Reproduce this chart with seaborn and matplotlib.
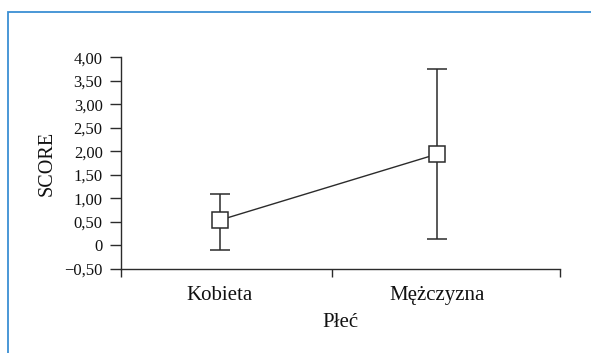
import matplotlib
matplotlib.use("Agg")
import matplotlib.pyplot as plt
from matplotlib.patches import Rectangle
from matplotlib.ticker import FixedLocator, FixedFormatter
import seaborn as sns
import pandas as pd

# Group means with lower/upper interval limits
categories = ["Kobieta", "Mężczyzna"]
means = [0.54, 1.94]
lower = [-0.10, 0.14]
upper = [1.10, 3.75]
y_ticks = [-0.5, 0, 0.5, 1.0, 1.5, 2.0, 2.5, 3.0, 3.5, 4.0]
y_tick_labels = ["\u22120,50", "0", "0,50", "1,00", "1,50", "2,00", "2,50", "3,00", "3,50", "4,00"]

sns.set_theme(style="white")
plt.rcParams["font.family"] = ["Liberation Serif", "DejaVu Serif"]

W, H = 591, 353
fig = plt.figure(figsize=(W / 100, H / 100), dpi=100)

# blue frame around the figure panel
fig.patches.append(Rectangle((8 / W, -0.1), 1.2, 1 - 12 / H + 0.1,
                             transform=fig.transFigure, fill=False,
                             edgecolor="#3a8fd3", linewidth=1.3))

ax = fig.add_axes([120.7 / W, 1 - 269 / H, (560 - 120.7) / W, (269 - 57.3) / H])

df = pd.DataFrame({"Płeć": categories, "SCORE": means})
dark = "#2b2b2b"

# interval whiskers with caps
x_pos = list(range(len(categories)))
ax.errorbar(x_pos, means,
            yerr=[[m - lo for m, lo in zip(means, lower)],
                  [hi - m for m, hi in zip(means, upper)]],
            fmt="none", ecolor=dark, elinewidth=1.1, capsize=7.5, capthick=1.1,
            zorder=2)

sns.pointplot(data=df, x="Płeć", y="SCORE", ax=ax, color=dark,
              markers="s", linestyles="-", errorbar=None,
              markersize=11.5, linewidth=1.0, zorder=3)
for ln in ax.lines:
    if ln.get_marker() == "s":
        ln.set_markerfacecolor("white")
        ln.set_markeredgecolor(dark)
        ln.set_markeredgewidth(1.1)
        ln.set_zorder(4)

ax.set_xlim(-0.458, 1.569)
ax.set_ylim(-0.5, 4.0)

ax.yaxis.set_major_locator(FixedLocator(y_ticks))
ax.yaxis.set_major_formatter(FixedFormatter(y_tick_labels))
ax.tick_params(axis="y", which="major", direction="out", length=8, width=1.0,
               color=dark, labelsize=12, pad=5, left=True, labelcolor="#111111")

ax.xaxis.set_major_locator(FixedLocator(x_pos))
ax.xaxis.set_major_formatter(FixedFormatter(categories))
ax.xaxis.set_minor_locator(FixedLocator([-0.458, 0.517, 1.569]))
ax.tick_params(axis="x", which="major", length=0, labelsize=15, pad=12,
               labelcolor="#111111")
ax.tick_params(axis="x", which="minor", direction="out", length=6, width=1.0,
               color=dark, bottom=True)

for side in ["top", "right"]:
    ax.spines[side].set_visible(False)
for side in ["left", "bottom"]:
    ax.spines[side].set_color(dark)
    ax.spines[side].set_linewidth(1.0)

ax.set_xlabel("Płeć", fontsize=15, labelpad=6, color="#111111")
ax.set_ylabel("SCORE", fontsize=14.5, color="#111111")
ax.yaxis.set_label_coords(-0.145, 0.5)

fig.savefig("out.png", dpi=100, facecolor="white")
